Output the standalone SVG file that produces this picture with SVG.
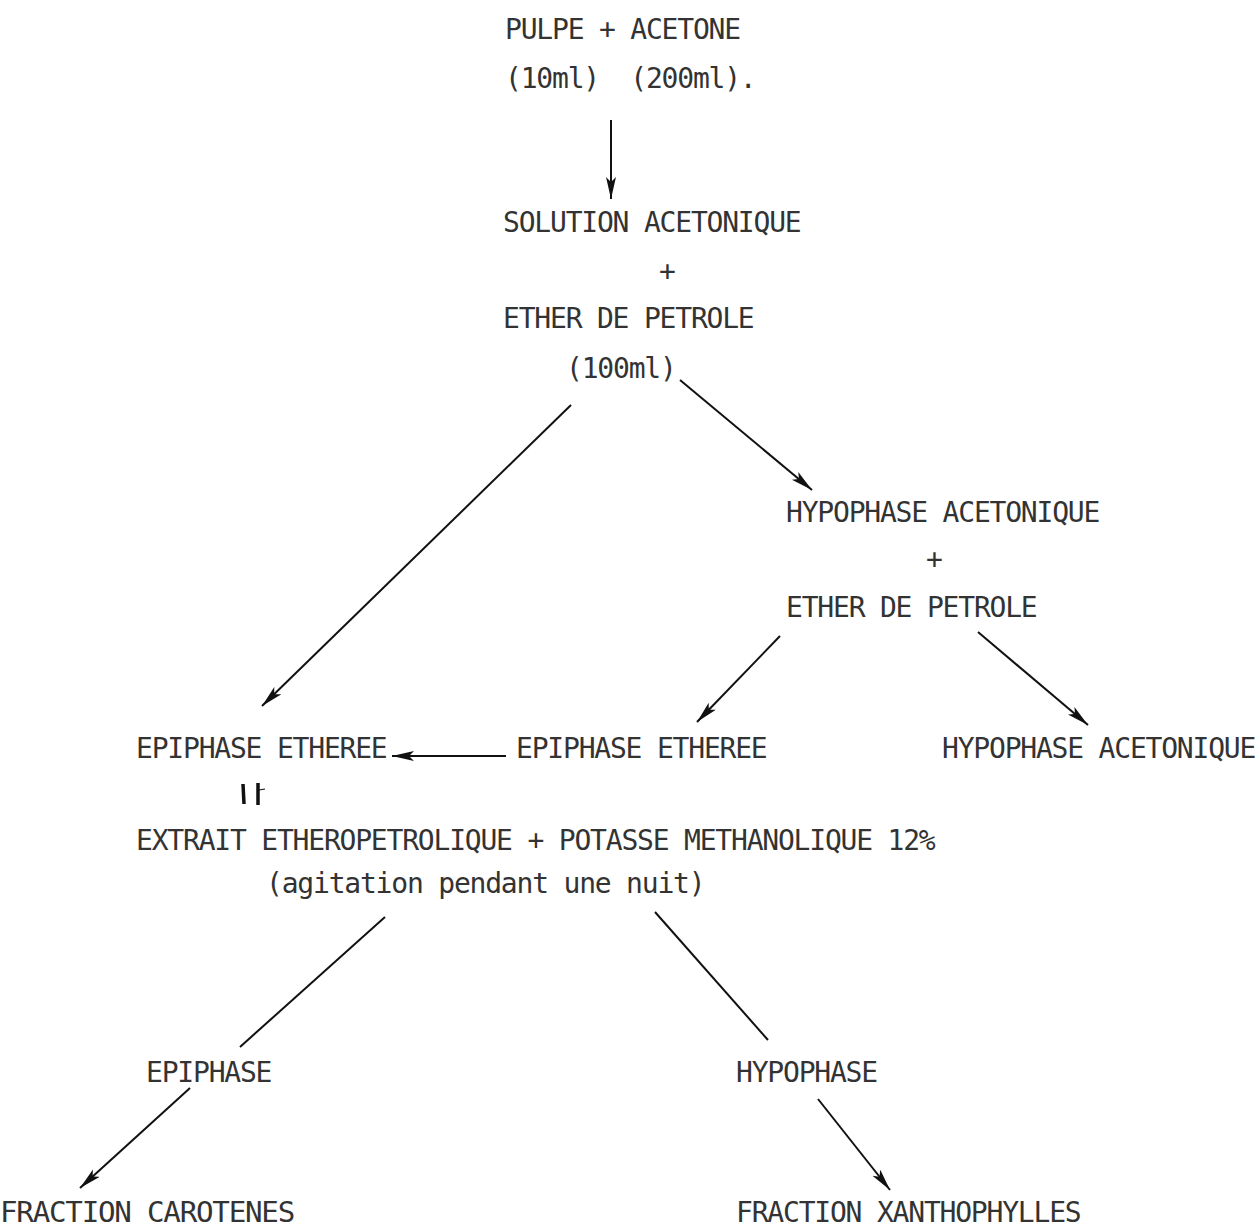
<svg xmlns="http://www.w3.org/2000/svg" width="1260" height="1230" viewBox="0 0 1260 1230">
<style>
text{font-family:"DejaVu Sans Mono","Liberation Mono",monospace;font-size:28px;letter-spacing:-1.2px;fill:#333}
.c{stroke:#111;stroke-width:2;fill:none}
.a{marker-end:url(#ah)}
</style>
<defs>
<marker id="ah" markerUnits="userSpaceOnUse" markerWidth="24" markerHeight="12" refX="22" refY="5" orient="auto">
<path d="M0,0 L22,5 L0,10 L5,5 Z" fill="#111"/>
</marker>
</defs>
<rect width="1260" height="1230" fill="#fff"/>
<g id="n1"><text x="505" y="39">PULPE + ACETONE</text><text x="505" y="88">(10ml)&#160;&#160;(200ml).</text></g>
<g id="n2"><text x="503" y="232">SOLUTION ACETONIQUE</text><text x="659" y="281">+</text><text x="503" y="328">ETHER DE PETROLE</text><text x="566" y="378">(100ml)</text></g>
<g id="n3"><text x="786" y="522">HYPOPHASE ACETONIQUE</text><text x="926" y="569">+</text><text x="786" y="617">ETHER DE PETROLE</text></g>
<g id="n4"><text x="136" y="758">EPIPHASE ETHEREE</text></g>
<g id="n5"><text x="516" y="758">EPIPHASE ETHEREE</text></g>
<g id="n6"><text x="942" y="758">HYPOPHASE ACETONIQUE</text></g>
<g id="n7"><text x="136" y="850">EXTRAIT ETHEROPETROLIQUE + POTASSE METHANOLIQUE 12%</text><text x="266" y="893">(agitation pendant une nuit)</text></g>
<g id="n8"><text x="146" y="1082">EPIPHASE</text></g>
<g id="n9"><text x="736" y="1082">HYPOPHASE</text></g>
<g id="n10"><text x="0" y="1222" textLength="294" lengthAdjust="spacingAndGlyphs">FRACTION CAROTENES</text></g>
<g id="n11"><text x="736" y="1222">FRACTION XANTHOPHYLLES</text></g>
<g id="connectors">
<line class="c a" x1="611" y1="120" x2="611" y2="199"/>
<line class="c a" x1="571" y1="405" x2="262" y2="706"/>
<line class="c a" x1="680" y1="380" x2="812" y2="490"/>
<line class="c a" x1="780" y1="636" x2="697" y2="722"/>
<line class="c a" x1="978" y1="632" x2="1088" y2="725"/>
<line class="c a" x1="506" y1="756" x2="392" y2="756"/>
<line class="c" x1="385" y1="917" x2="240" y2="1047"/>
<line class="c" x1="655" y1="912" x2="768" y2="1040"/>
<line class="c a" x1="190" y1="1088" x2="80" y2="1188"/>
<line class="c a" x1="818" y1="1099" x2="890" y2="1190"/>
<path class="c" style="stroke-width:3.5" d="M243,784 L244,804 M258,783 L258,805"/>
<path class="c" style="stroke-width:1.2" d="M259,790 L265,789"/>
</g>
</svg>
